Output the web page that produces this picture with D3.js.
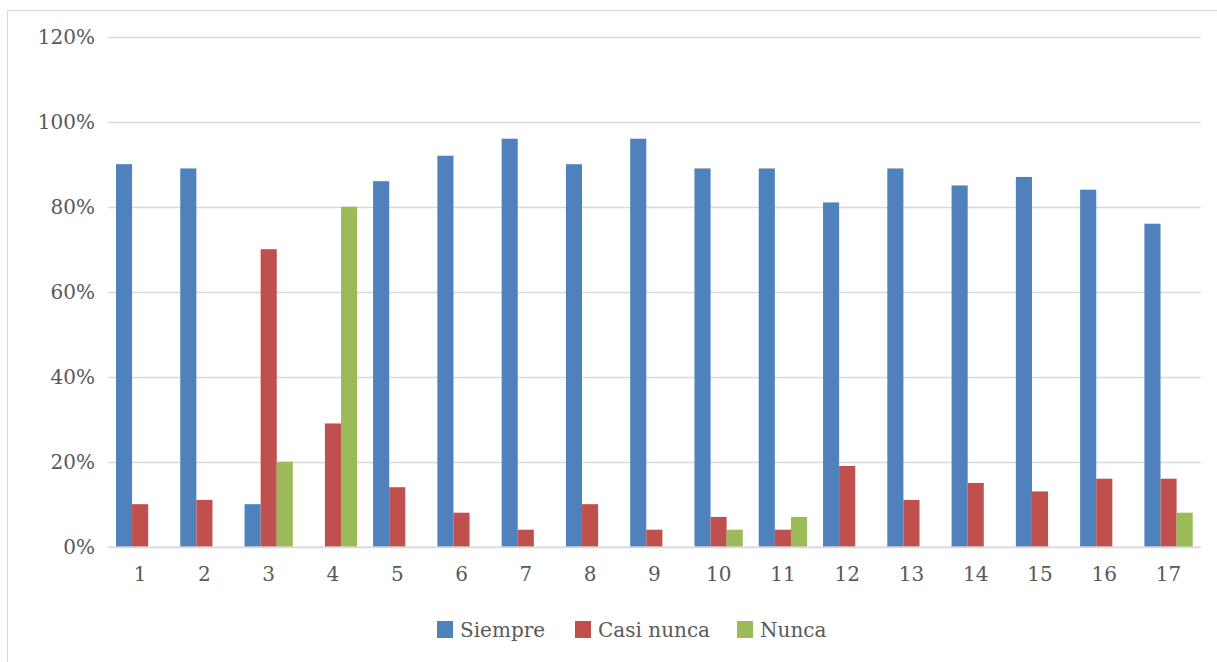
<!DOCTYPE html>
<html>
<head>
<meta charset="utf-8">
<script src="https://cdn.jsdelivr.net/npm/d3@7"></script>
<style>
  html, body { margin: 0; padding: 0; background: #fff; }
  svg { display: block; }
  text { font-family: "DejaVu Serif", "Liberation Serif", serif; fill: #595959; }
</style>
</head>
<body>
<svg id="chart" width="1217" height="662"></svg>
<script>
// Item numbers along the horizontal axis
const categories = ["1","2","3","4","5","6","7","8","9","10","11","12","13","14","15","16","17"];

// Share of answers per item (percent)
const siempre    = [90, 89, 10,  0, 86, 92, 96, 90, 96, 89, 89, 81, 89, 85, 87, 84, 76];
const casiNunca  = [10, 11, 70, 29, 14,  8,  4, 10,  4,  7,  4, 19, 11, 15, 13, 16, 16];
const nunca      = [ 0,  0, 20, 80,  0,  0,  0,  0,  0,  4,  7,  0,  0,  0,  0,  0,  8];

const seriesNames = ["Siempre", "Casi nunca", "Nunca"];
const seriesColors = ["#4f81bd", "#c0504d", "#9bbb59"];
const yTicks = [0, 20, 40, 60, 80, 100, 120];

const seriesValues = [siempre, casiNunca, nunca];
const rows = categories.map((c, i) => ({
  cat: c,
  values: seriesNames.map((name, s) => ({ name, color: seriesColors[s], v: seriesValues[s][i] }))
}));

const svg = d3.select("#chart");
const margin = { left: 108, right: 1200.7, top: 36.7, bottom: 546.7 };
const fontSize = "20px";

// outer frame
svg.append("rect")
  .attr("x", 7.5).attr("y", 10.5)
  .attr("width", 1215).attr("height", 660)
  .attr("fill", "none").attr("stroke", "#d9d9d9").attr("stroke-width", 1);

const x = d3.scaleBand().domain(categories).range([margin.left, margin.right]).paddingInner(0).paddingOuter(0);
const y = d3.scaleLinear().domain([0, 120]).range([margin.bottom, margin.top]);

const barW = 16.1;
const groupW = barW * seriesNames.length;
const xs = d3.scaleBand().domain(seriesNames).range([0, groupW]);

// gridlines
svg.append("g")
  .selectAll("line")
  .data(yTicks)
  .join("line")
  .attr("x1", margin.left).attr("x2", margin.right)
  .attr("y1", d => Math.round(y(d)) + 0.5).attr("y2", d => Math.round(y(d)) + 0.5)
  .attr("stroke", "#d9d9d9").attr("stroke-width", 1.3);

// y axis labels
const yAxis = d3.axisLeft(y).tickValues(yTicks).tickFormat(d => d + "%").tickSize(0).tickPadding(13);
const gy = svg.append("g").attr("transform", `translate(${margin.left},0)`).call(yAxis);
gy.select(".domain").remove();
gy.selectAll("text").style("font-size", fontSize).style("font-family", null).attr("fill", "#595959");

// bars
const groups = svg.append("g")
  .selectAll("g")
  .data(rows)
  .join("g")
  .attr("transform", d => `translate(${x(d.cat) + (x.bandwidth() - groupW) / 2},0)`);

groups.selectAll("rect")
  .data(d => d.values.filter(v => v.v > 0))
  .join("rect")
  .attr("x", d => xs(d.name))
  .attr("width", barW)
  .attr("y", d => y(d.v))
  .attr("height", d => y(0) - y(d.v))
  .attr("fill", d => d.color);

// x axis
const xAxis = d3.axisBottom(x).tickSize(0).tickPadding(20);
const gx = svg.append("g").attr("transform", `translate(0,${margin.bottom})`).call(xAxis);
gx.select(".domain").attr("stroke", "#d9d9d9").attr("stroke-width", 1.3);
gx.selectAll("text").style("font-size", fontSize).style("font-family", null).attr("fill", "#595959");

// legend
const legendItems = [
  { name: "Siempre", color: seriesColors[0], x: 437 },
  { name: "Casi nunca", color: seriesColors[1], x: 575 },
  { name: "Nunca", color: seriesColors[2], x: 737 }
];
const lg = svg.append("g").selectAll("g").data(legendItems).join("g")
  .attr("transform", d => `translate(${d.x},621)`);
lg.append("rect").attr("width", 16).attr("height", 17).attr("fill", d => d.color);
lg.append("text").attr("x", 23).attr("y", 16).style("font-size", fontSize).text(d => d.name);
</script>
</body>
</html>
